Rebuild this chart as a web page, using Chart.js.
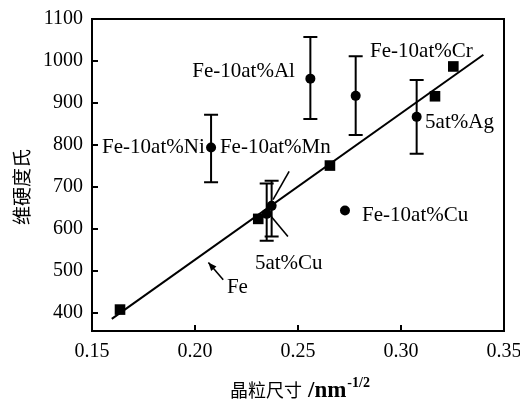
<!DOCTYPE html>
<html>
<head>
<meta charset="utf-8">
<script src="https://cdn.jsdelivr.net/npm/chart.js@4"></script>
<style>
  html, body { margin: 0; padding: 0; background: #fff; }
  #wrap { width: 520px; height: 400px; }
</style>
</head>
<body>
<div id="wrap"><canvas id="chart" width="520" height="400"></canvas></div>
<script>
// datos
const xTicks = [0.15, 0.20, 0.25, 0.30, 0.35];
const yTicks = [400, 500, 600, 700, 800, 900, 1000, 1100];

// aleaciones (circulos) con barras de error
const circleX = [0.2078, 0.2348, 0.2372, 0.2560, 0.2780, 0.3076, 0.2728];
const circleY = [794, 636, 655, 958, 917, 867, 644];
const errLow  = [711, 572, 582, 862, 824, 779, null];
const errHigh = [872, 708, 715, 1057, 1011, 955, null];

// Fe puro (cuadrados)
const squareX = [0.1636, 0.2307, 0.2655, 0.3165, 0.3254];
const squareY = [408, 624, 751, 916, 987];

// recta de ajuste
const fitX = [0.1596, 0.3400];
const fitY = [386, 1015];

// etiquetas
const labelText  = ['Fe-10at%Al', 'Fe-10at%Cr', '5at%Ag', 'Fe-10at%Ni', 'Fe-10at%Mn', 'Fe-10at%Cu', '5at%Cu', 'Fe'];
const labelX     = [0.2485, 0.2850, 0.3117, 0.1549, 0.2121, 0.2811, 0.2291, 0.2155];
const labelY     = [974, 1022, 853, 793, 793, 632, 517, 460];
const labelAlign = ['right', 'left', 'left', 'left', 'left', 'left', 'left', 'left'];

// flechas
const arrowFromX = [0.2457, 0.2451, 0.2137];
const arrowFromY = [737, 582, 479];
const arrowToX   = [0.2379, 0.2354, 0.2065];
const arrowToY   = [670, 639, 520];
const arrowHead  = [false, false, true];

const xTitle = '晶粒尺寸 ';
const xTitleUnit = '/nm';
const xTitleSup = '-1/2';
const yTitle = '维硬度氏';

const SERIF = '"Liberation Serif", "DejaVu Serif", serif';
const CJK = '"Noto Sans CJK SC", sans-serif';

const extras = {
  id: 'extras',
  afterDatasetsDraw(chart) {
    const ctx = chart.ctx;
    const xs = chart.scales.x, ys = chart.scales.y;
    const a = chart.chartArea;
    ctx.save();
    ctx.strokeStyle = '#000';
    ctx.fillStyle = '#000';

    // barras de error
    ctx.lineWidth = 2;
    circleX.forEach((x, i) => {
      if (errLow[i] == null) return;
      const px = xs.getPixelForValue(x);
      const lo = ys.getPixelForValue(errLow[i]);
      const hi = ys.getPixelForValue(errHigh[i]);
      ctx.beginPath();
      ctx.moveTo(px, lo); ctx.lineTo(px, hi);
      ctx.moveTo(px - 7, lo); ctx.lineTo(px + 7, lo);
      ctx.moveTo(px - 7, hi); ctx.lineTo(px + 7, hi);
      ctx.stroke();
    });

    // flechas
    ctx.lineWidth = 1.6;
    arrowFromX.forEach((x, i) => {
      const x0 = xs.getPixelForValue(x), y0 = ys.getPixelForValue(arrowFromY[i]);
      const x1 = xs.getPixelForValue(arrowToX[i]), y1 = ys.getPixelForValue(arrowToY[i]);
      ctx.beginPath();
      ctx.moveTo(x0, y0); ctx.lineTo(x1, y1);
      ctx.stroke();
      if (arrowHead[i]) {
        const ang = Math.atan2(y1 - y0, x1 - x0);
        ctx.beginPath();
        ctx.moveTo(x1, y1);
        ctx.lineTo(x1 - 9 * Math.cos(ang - 0.4), y1 - 9 * Math.sin(ang - 0.4));
        ctx.lineTo(x1 - 9 * Math.cos(ang + 0.4), y1 - 9 * Math.sin(ang + 0.4));
        ctx.closePath();
        ctx.fill();
      }
    });

    // etiquetas
    ctx.font = '21px ' + SERIF;
    ctx.textBaseline = 'middle';
    labelText.forEach((t, i) => {
      ctx.textAlign = labelAlign[i];
      ctx.fillText(t, xs.getPixelForValue(labelX[i]), ys.getPixelForValue(labelY[i]));
    });

    // marco y marcas hacia dentro
    ctx.lineWidth = 2;
    ctx.strokeRect(a.left, a.top, a.right - a.left, a.bottom - a.top);
    ctx.beginPath();
    xTicks.forEach(v => {
      const px = xs.getPixelForValue(v);
      ctx.moveTo(px, a.bottom); ctx.lineTo(px, a.bottom - 6);
    });
    yTicks.forEach(v => {
      const py = ys.getPixelForValue(v);
      ctx.moveTo(a.left, py); ctx.lineTo(a.left + 6, py);
    });
    ctx.stroke();

    // titulos de ejes
    ctx.textAlign = 'left';
    ctx.textBaseline = 'alphabetic';
    const ty = 397;
    let tx = 230;
    ctx.font = '18px ' + CJK;
    ctx.fillText(xTitle, tx, ty);
    tx += ctx.measureText(xTitle).width + 2;
    ctx.font = 'bold 23px ' + SERIF;
    ctx.fillText(xTitleUnit, tx, ty);
    tx += ctx.measureText(xTitleUnit).width + 1;
    ctx.font = 'bold 14px ' + SERIF;
    ctx.fillText(xTitleSup, tx, ty - 10);

    ctx.save();
    ctx.translate(22, 187);
    ctx.rotate(-Math.PI / 2);
    ctx.textAlign = 'center';
    ctx.textBaseline = 'middle';
    ctx.font = '19px ' + CJK;
    ctx.fillText(yTitle, 0, 0);
    ctx.restore();

    ctx.restore();
  }
};

new Chart(document.getElementById('chart'), {
  type: 'scatter',
  data: {
    datasets: [
      {
        label: 'ajuste',
        data: fitX.map((x, i) => ({ x, y: fitY[i] })),
        showLine: true,
        borderColor: '#000',
        borderWidth: 2,
        pointRadius: 0,
        order: 3
      },
      {
        label: 'Fe',
        data: squareX.map((x, i) => ({ x, y: squareY[i] })),
        pointStyle: 'rect',
        pointRadius: 7.5,
        backgroundColor: '#000',
        borderColor: '#000',
        borderWidth: 0,
        order: 2
      },
      {
        label: 'aleaciones',
        data: circleX.map((x, i) => ({ x, y: circleY[i] })),
        pointStyle: 'circle',
        pointRadius: 5,
        backgroundColor: '#000',
        borderColor: '#000',
        borderWidth: 0,
        order: 1
      }
    ]
  },
  options: {
    responsive: false,
    animation: false,
    events: [],
    layout: { padding: { top: 19, right: 16, left: 0, bottom: 0 } },
    plugins: {
      legend: { display: false },
      tooltip: { enabled: false }
    },
    scales: {
      x: {
        type: 'linear',
        min: 0.15,
        max: 0.35,
        afterBuildTicks: axis => { axis.ticks = xTicks.map(v => ({ value: v })); },
        afterFit: scale => {
          scale.height = 69;
          scale.paddingLeft = 0;
          scale.paddingRight = 0;
        },
        grid: { display: false, drawTicks: false },
        border: { display: false },
        ticks: {
          padding: 9,
          color: '#000',
          font: { family: SERIF, size: 20 },
          maxRotation: 0,
          callback: v => v.toFixed(2)
        }
      },
      y: {
        type: 'linear',
        min: 357,
        max: 1100,
        afterBuildTicks: axis => { axis.ticks = yTicks.map(v => ({ value: v })); },
        afterFit: scale => {
          scale.width = 92;
          scale.paddingTop = 0;
          scale.paddingBottom = 0;
        },
        grid: { display: false, drawTicks: false },
        border: { display: false },
        ticks: {
          padding: 9,
          color: '#000',
          font: { family: SERIF, size: 20 },
          callback: v => String(v)
        }
      }
    }
  },
  plugins: [extras]
});
</script>
</body>
</html>
